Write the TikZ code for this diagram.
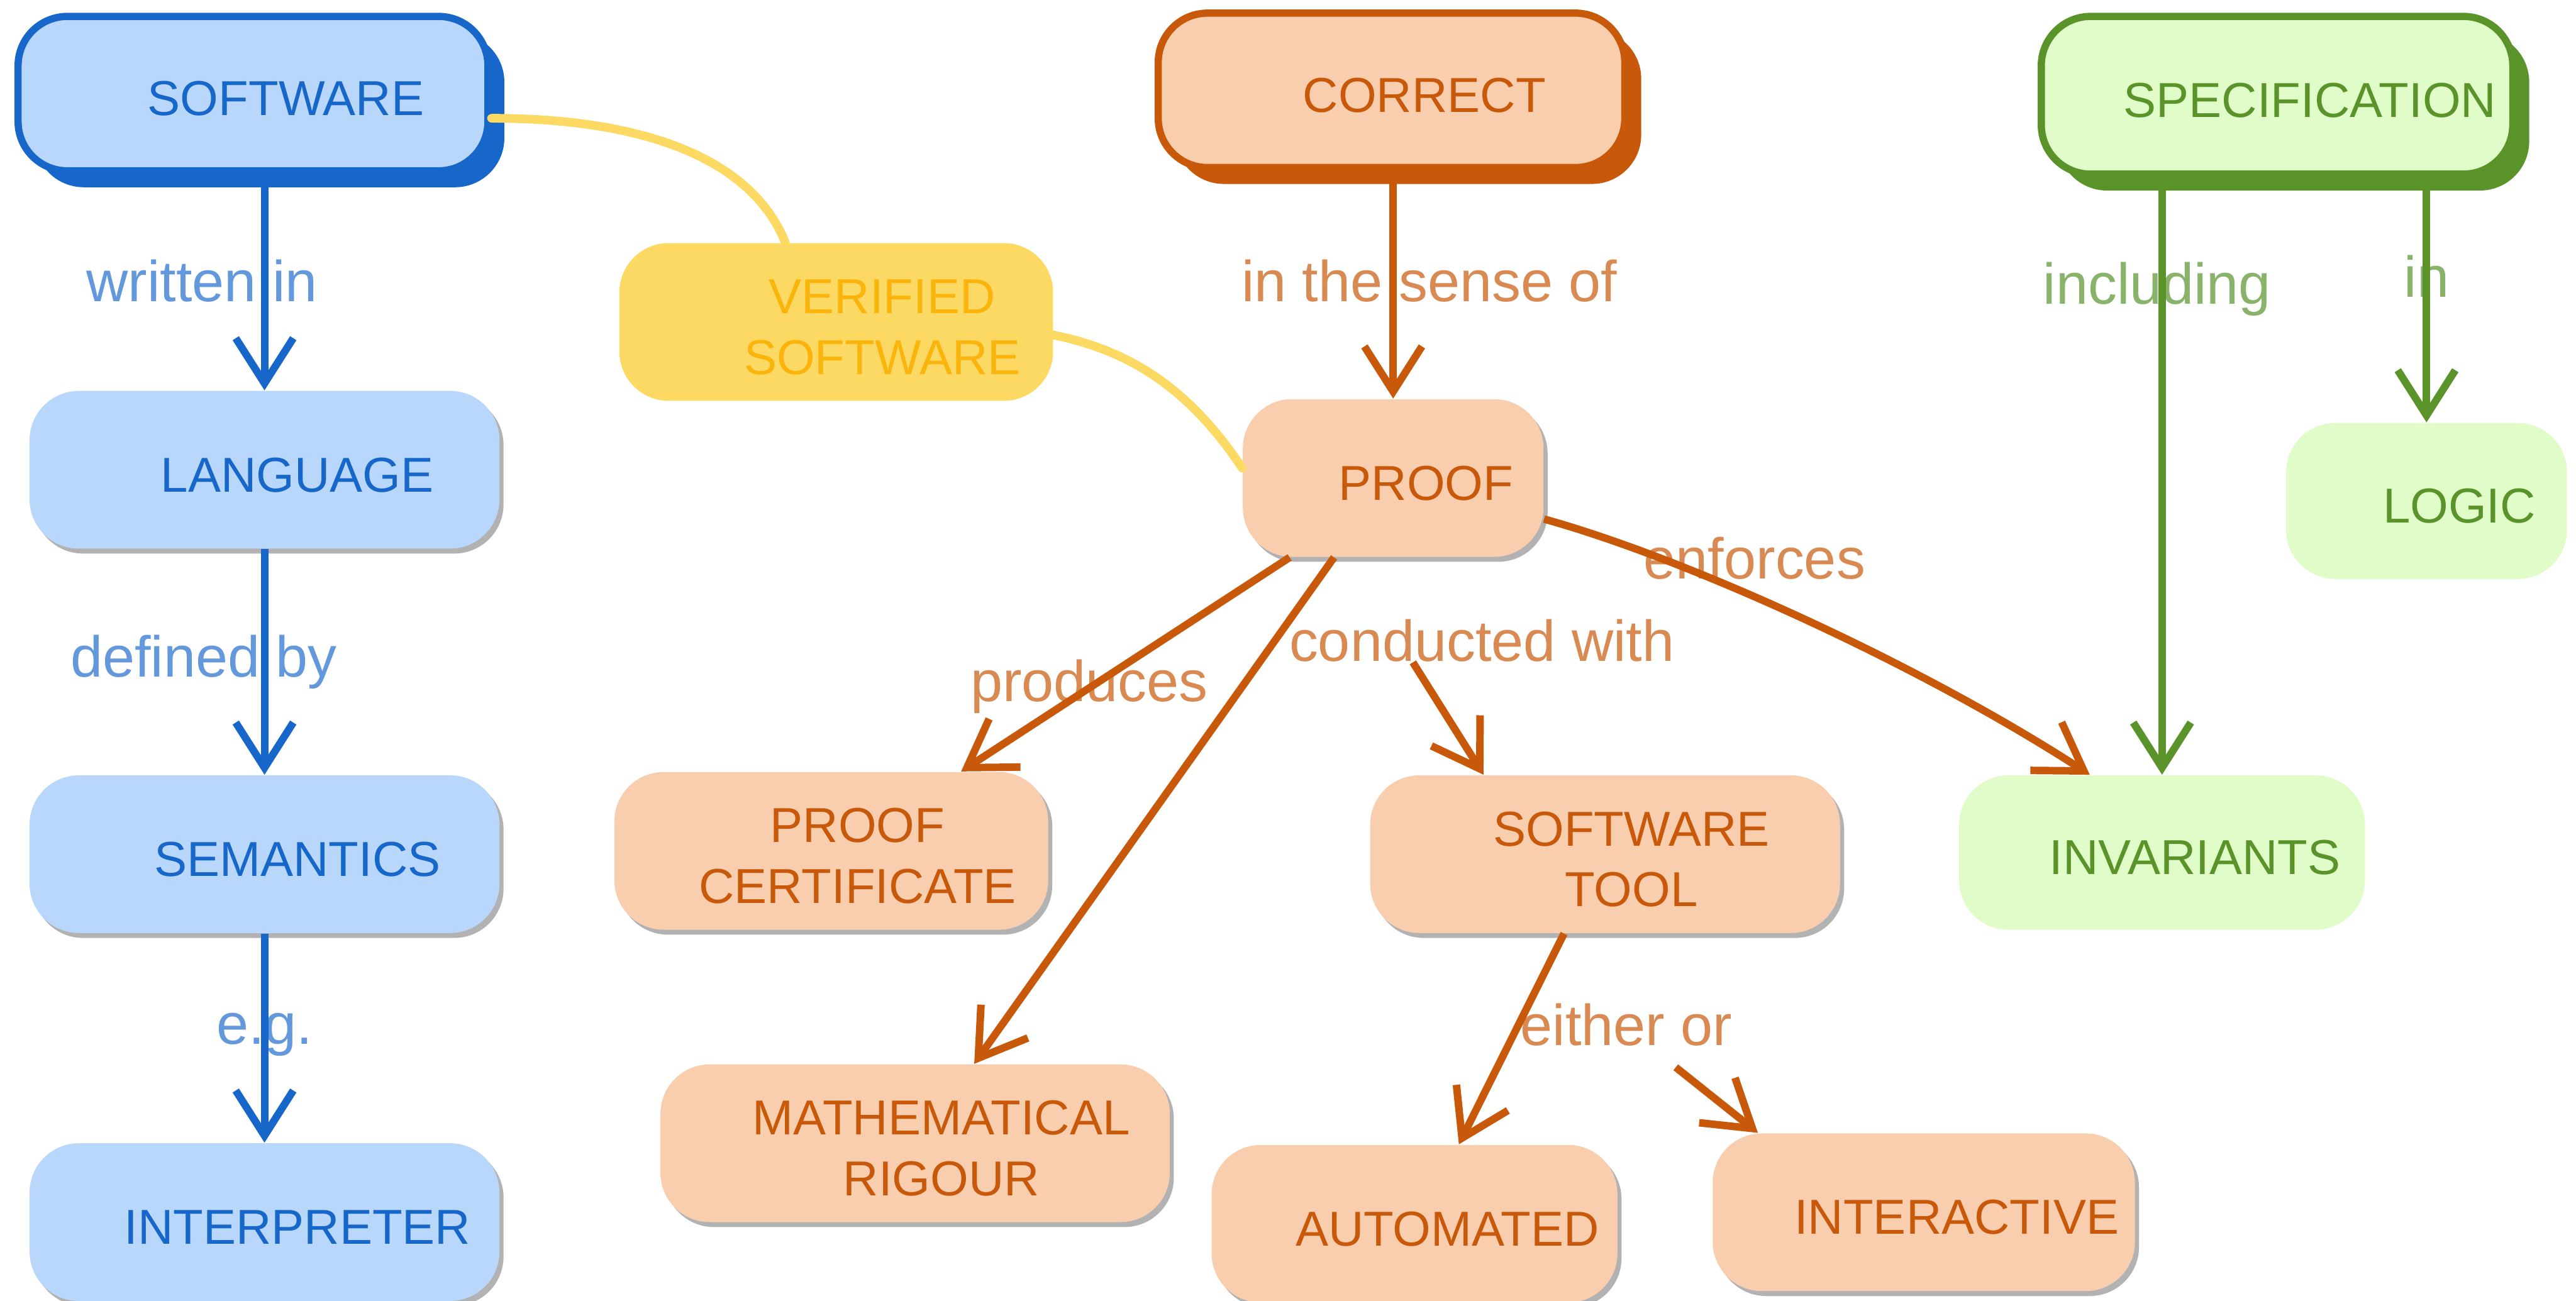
\documentclass[tikz,border=0pt]{standalone}
\usepackage{fontspec}
\setmainfont{Liberation Sans}
\usetikzlibrary{arrows.meta,shadows}

\definecolor{bluedark}{HTML}{1767CA}
\definecolor{bluefill}{HTML}{B8D7FB}
\definecolor{bluelabel}{HTML}{6399DC}
\definecolor{orangedark}{HTML}{C8590A}
\definecolor{orangefill}{HTML}{F9CEAF}
\definecolor{orangelabel}{HTML}{D88A52}
\definecolor{greendark}{HTML}{5B932B}
\definecolor{greenfill}{HTML}{E0FCC8}
\definecolor{greenlabel}{HTML}{89B26A}
\definecolor{yellowfill}{HTML}{FCD963}
\definecolor{yellowtext}{HTML}{FBB40C}

\newcommand{\concept}[2][8mm]{\raisebox{0pt}[\dimexpr\height+2.4mm\relax][\depth]{\begin{tabular}{@{\hspace{#1}}c@{}}#2\end{tabular}}}

\begin{document}
\begin{tikzpicture}[
  box/.style={rounded corners=0.6cm, inner sep=0pt, font=\fontsize{17}{21}\selectfont},
  softshadow/.style={drop shadow={shadow xshift=0.05cm, shadow yshift=-0.06cm, fill=black, opacity=0.3}},
  bluetop/.style={box, fill=bluefill, draw=bluedark, line width=2.5pt, text=bluedark,
    drop shadow={shadow xshift=0.2cm, shadow yshift=-0.2cm, fill=bluedark, opacity=1}},
  bluebox/.style={box, softshadow, fill=bluefill, text=bluedark},
  orangetop/.style={box, fill=orangefill, draw=orangedark, line width=2.5pt, text=orangedark,
    drop shadow={shadow xshift=0.2cm, shadow yshift=-0.2cm, fill=orangedark, opacity=1}},
  orangebox/.style={box, softshadow, fill=orangefill, text=orangedark},
  greentop/.style={box, fill=greenfill, draw=greendark, line width=2.5pt, text=greendark,
    drop shadow={shadow xshift=0.2cm, shadow yshift=-0.2cm, fill=greendark, opacity=1}},
  greenbox/.style={box, fill=greenfill, text=greendark},
  yellowbox/.style={box, fill=yellowfill, text=yellowtext},
  lbl/.style={inner sep=0pt, font=\fontsize{20}{24}\selectfont},
  bluelink/.style={draw=bluedark, line width=2.6pt, -{Straight Barb[length=5.5mm,width=7mm]}},
  orangelink/.style={draw=orangedark, line width=2.6pt, -{Straight Barb[length=5.5mm,width=7mm]}},
  greenlink/.style={draw=greendark, line width=2.6pt, -{Straight Barb[length=5.5mm,width=7mm]}},
  yellowline/.style={draw=yellowfill, line width=3pt, line cap=round}
]
\useasboundingbox (0,0) rectangle (31.36,15.84);

%% concepts
\node[bluetop, minimum width=5.72cm, minimum height=1.88cm] (software) at (3.08,14.70) {\concept{SOFTWARE}};
\node[bluebox, minimum width=5.72cm, minimum height=1.92cm] (language) at (3.22,10.12) {\concept{LANGUAGE}};
\node[bluebox, minimum width=5.72cm, minimum height=1.92cm] (semantics) at (3.22,5.44) {\concept{SEMANTICS}};
\node[bluebox, minimum width=5.72cm, minimum height=1.92cm] (interpreter) at (3.22,0.96) {\concept{INTERPRETER}};
\node[yellowbox, minimum width=5.28cm, minimum height=1.92cm] (verified) at (10.18,11.92) {\concept[1.12cm]{VERIFIED\\SOFTWARE}};
\node[orangetop, minimum width=5.68cm, minimum height=1.88cm] (correct) at (16.94,14.74) {\concept{CORRECT}};
\node[orangebox, minimum width=3.66cm, minimum height=1.92cm] (proof) at (16.96,10.02) {\concept{PROOF}};
\node[greentop, minimum width=5.74cm, minimum height=1.92cm] (spec) at (27.72,14.68) {\concept{SPECIFICATION}};
\node[greenbox, minimum width=3.42cm, minimum height=1.90cm] (logic) at (29.54,9.74) {\concept{LOGIC}};
\node[greenbox, minimum width=4.94cm, minimum height=1.88cm] (invariants) at (26.32,5.46) {\concept{INVARIANTS}};
\node[orangebox, minimum width=5.28cm, minimum height=1.92cm] (certificate) at (10.12,5.48) {\concept[6.4mm]{PROOF\\CERTIFICATE}};
\node[orangebox, minimum width=5.72cm, minimum height=1.92cm] (tool) at (19.54,5.44) {\concept[6.4mm]{SOFTWARE\\TOOL}};
\node[orangebox, minimum width=6.20cm, minimum height=1.92cm] (rigour) at (11.14,1.92) {\concept[6.4mm]{MATHEMATICAL\\RIGOUR}};
\node[orangebox, minimum width=4.94cm, minimum height=1.92cm] (automated) at (17.22,0.94) {\concept{AUTOMATED}};
\node[orangebox, minimum width=5.14cm, minimum height=1.92cm] (interactive) at (23.42,1.08) {\concept{INTERACTIVE}};

%% link labels
\node[lbl, text=bluelabel] (written) at (2.46,12.42) {written in};
\node[lbl, text=bluelabel] (defined) at (2.48,7.78) {defined by};
\node[lbl, text=bluelabel] (eg) at (3.22,3.24) {e.g.};
\node[lbl, text=orangelabel] (sense) at (17.40,12.42) {in the sense of};
\node[lbl, text=greenlabel] (including) at (26.26,12.32) {including};
\node[lbl, text=greenlabel] (in) at (29.54,12.48) {in};
\node[lbl, text=orangelabel] (enforces) at (21.36,9.04) {enforces};
\node[lbl, text=orangelabel] (conducted) at (18.04,8.04) {conducted with};
\node[lbl, text=orangelabel] (produces) at (13.26,7.48) {produces};
\node[lbl, text=orangelabel] (either) at (19.80,3.36) {either or};

%% links
\draw[bluelink] (language.north |- software.south) -- (language.north);      %% software - language
\draw[bluelink] (language.south) -- (semantics.north);                       %% language - semantics
\draw[bluelink] (semantics.south) -- (interpreter.north);                    %% semantics - interpreter
\draw[orangelink] (proof.north |- correct.south) -- (proof.north);           %% correct - proof
\draw[greenlink] (invariants.north |- spec.south) -- (invariants.north);     %% spec - invariants
\draw[greenlink] (logic.north |- spec.south) -- (logic.north);               %% spec - logic
\draw[orangelink] ([xshift=-1.26cm]proof.south) -- ([xshift=1.58cm]certificate.north);  %% proof - certificate
\draw[orangelink] ([xshift=-0.72cm]proof.south) -- ([xshift=0.72cm]rigour.north);       %% proof - rigour
\draw[orangelink] ([xshift=-0.84cm]conducted.south) -- ([xshift=-1.48cm]tool.north);    %% conducted with - tool
\draw[orangelink] ([xshift=-0.5cm]tool.south) -- ([xshift=0.54cm]automated.north);      %% tool - automated
\draw[orangelink] ([shift={(0.6cm,-0.25cm)}]either.south) -- ([xshift=-2.02cm]interactive.north); %% either or - interactive
\draw[orangelink] ([yshift=-0.5cm]proof.east) .. controls +(1.8,-0.5) and +(-2.0,1.3) .. ([xshift=-0.88cm]invariants.north); %% proof - invariants
\draw[yellowline] ([yshift=-0.3cm]software.east) .. controls +(1.9,0) and +(-0.4,1) .. ([xshift=-0.62cm]verified.north); %% software - verified
\draw[yellowline] ([yshift=-0.16cm]verified.east) .. controls +(1,-0.2) and +(-0.6,0.9) .. ([yshift=0.12cm]proof.west);   %% verified - proof
\end{tikzpicture}
\end{document}
